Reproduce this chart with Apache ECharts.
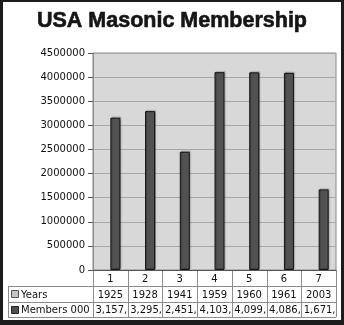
<!DOCTYPE html>
<html>
<head>
<meta charset="utf-8">
<script src="https://cdn.jsdelivr.net/npm/echarts@6/dist/echarts.min.js"></script>
<style>
  body { margin: 0; background: #fff; }
  #chart { width: 344px; height: 325px; }
  #frame {
    position: absolute; left: 0; top: 0; width: 344px; height: 325px;
    box-sizing: border-box; border-style: solid; border-color: #1c1c1c;
    border-width: 2px 3px 5px 3px; pointer-events: none;
  }
</style>
</head>
<body>
<div id="chart"></div>
<div id="frame"></div>
<script>
// data
var categories = ['1', '2', '3', '4', '5', '6', '7'];
var years = ['1925', '1928', '1941', '1959', '1960', '1961', '2003'];
var members = [3157000, 3295000, 2451000, 4103000, 4099000, 4086000, 1671000];

// plot + table layout
var plotLeft = 93, plotRight = 336, plotTop = 53, plotBottom = 270;
var rowY = [270, 286, 302, 317];
var tableLeft = 8;
var colW = (plotRight - plotLeft) / categories.length;
var font = 'DejaVu Sans';
var lineColor = '#8c8c8c';

function cellText(v) {
  // the table column is too narrow, so the label gets cut like in the original
  return v.toLocaleString('en-US').slice(0, 6);
}

var graphics = [];
// horizontal table lines
[rowY[1], rowY[2], rowY[3]].forEach(function (y) {
  graphics.push({ type: 'line', shape: { x1: tableLeft, y1: y + 0.5, x2: plotRight, y2: y + 0.5 },
    style: { stroke: lineColor, lineWidth: 1 } });
});
// left table border
graphics.push({ type: 'line', shape: { x1: tableLeft + 0.5, y1: rowY[1], x2: tableLeft + 0.5, y2: rowY[3] },
  style: { stroke: lineColor, lineWidth: 1 } });
// column lines
for (var i = 0; i <= categories.length; i++) {
  var x = Math.round(plotLeft + i * colW) + 0.5;
  graphics.push({ type: 'line', shape: { x1: x, y1: rowY[0], x2: x, y2: rowY[3] },
    style: { stroke: lineColor, lineWidth: 1 } });
}
// row cells
for (var j = 0; j < categories.length; j++) {
  var cx = plotLeft + (j + 0.5) * colW;
  graphics.push({ type: 'text', x: cx, y: (rowY[1] + rowY[2]) / 2 + 1,
    style: { text: years[j], font: '10px "' + font + '"', fill: '#111', align: 'center', verticalAlign: 'middle' } });
  graphics.push({ type: 'text', x: cx + 1, y: (rowY[2] + rowY[3]) / 2 + 1,
    style: { text: cellText(members[j]), font: '10px "' + font + '"', fill: '#111', align: 'center', verticalAlign: 'middle' } });
}
// legend keys in the table
graphics.push({ type: 'rect', shape: { x: 11.5, y: 290.5, width: 7, height: 7 },
  style: { fill: '#c4c4c4', stroke: '#555', lineWidth: 1 } });
graphics.push({ type: 'text', x: 21, y: (rowY[1] + rowY[2]) / 2 + 1,
  style: { text: 'Years', font: '10px "' + font + '"', fill: '#111', verticalAlign: 'middle' } });
graphics.push({ type: 'rect', shape: { x: 11.5, y: 306.5, width: 7, height: 7 },
  style: { fill: '#4f4f4f', stroke: '#222', lineWidth: 1 } });
graphics.push({ type: 'text', x: 21, y: (rowY[2] + rowY[3]) / 2 + 1,
  style: { text: 'Members 000', font: '10px "' + font + '"', fill: '#111', verticalAlign: 'middle' } });

var chart = echarts.init(document.getElementById('chart'), null, { renderer: 'canvas' });
chart.setOption({
  animation: false,
  backgroundColor: '#fff',
  title: {
    text: 'USA Masonic Membership',
    left: 'center',
    top: 10,
    padding: 0,
    textStyle: { fontFamily: 'Liberation Sans', fontWeight: 'bold', fontSize: 21.5, color: '#151515', lineHeight: 21.5,
      textBorderColor: '#151515', textBorderWidth: 0.6 }
  },
  grid: {
    left: plotLeft, right: 344 - plotRight, top: plotTop, bottom: 325 - plotBottom,
    show: true, backgroundColor: '#d8d8d8', borderColor: '#8a8a8a', borderWidth: 1
  },
  xAxis: {
    type: 'category',
    data: categories,
    axisLine: { lineStyle: { color: '#555', width: 1 } },
    axisTick: { show: false },
    axisLabel: { fontFamily: font, fontSize: 10, color: '#111', margin: 4 }
  },
  yAxis: {
    type: 'value',
    min: 0, max: 4500000, interval: 500000,
    axisLine: { show: true, lineStyle: { color: '#8a8a8a' } },
    axisTick: { show: true, length: 5, lineStyle: { color: '#555' } },
    axisLabel: { fontFamily: font, fontSize: 10, color: '#111', margin: 8,
      formatter: function (v) { return String(v); } },
    splitLine: { lineStyle: { color: '#a8a8a8', width: 1 } }
  },
  series: [
    {
      // empty spacer: pushes the real bar to the right half of each column, as in the original
      type: 'bar', data: [], barWidth: 10, barGap: '0%', silent: true
    },
    {
      name: 'Members 000',
      type: 'bar',
      data: members,
      barWidth: 10,
      barGap: '0%',
      itemStyle: {
        color: '#525252', borderColor: '#141414', borderWidth: 1,
        shadowColor: 'rgba(0,0,0,0.25)', shadowOffsetX: 1, shadowOffsetY: -1, shadowBlur: 1
      }
    }
  ],
  graphic: graphics
});
</script>
</body>
</html>
